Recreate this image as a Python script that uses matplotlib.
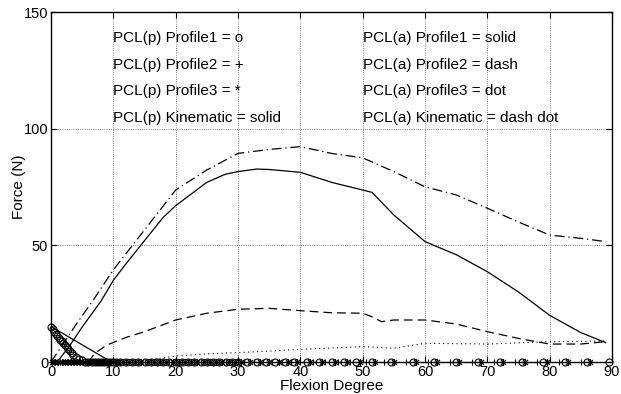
import matplotlib
matplotlib.use("Agg")
import matplotlib.pyplot as plt

plt.rcParams['font.family'] = ['Liberation Sans', 'DejaVu Sans']

# PCL(a) Profile1 (solid)
a1_x = [1, 3, 5, 8, 10, 12, 15, 18, 20, 22, 25, 28, 30, 33, 35, 40, 45, 50, 51.5, 55, 60, 65, 70, 75, 80, 85, 89]
a1_y = [0, 7, 15, 26, 35, 42, 52, 62, 67, 71, 77, 80.5, 81.6, 82.7, 82.5, 81.3, 77, 73.7, 72.7, 63, 51.6, 46, 38.7, 30, 20, 12.6, 8.3]

# PCL(a) Kinematic (dash dot)
ak_x = [0, 2, 4, 6.8, 10, 15, 20, 25, 30, 35, 40, 45, 50, 55, 60, 65, 70, 75, 80, 85, 89]
ak_y = [0, 8, 16, 26.6, 39.5, 56.6, 73.7, 82.3, 89.4, 91.1, 92.3, 89.4, 87.5, 81.6, 75.1, 71.6, 65.9, 60, 54.4, 53, 51.6]

# PCL(a) Profile2 (dash)
a2_x = [6, 7, 9, 12, 15, 20, 25, 30, 35, 40, 45, 50, 51.5, 53, 55, 60, 65, 70, 75, 80, 85, 89]
a2_y = [0, 3.7, 7.3, 10.5, 13, 18, 20.9, 22.6, 23, 22, 21.1, 20.9, 19.4, 17.3, 18, 18, 16.3, 13, 10.1, 7.7, 7.7, 8.7]

# PCL(a) Profile3 (dot)
a3_x = [16, 20, 25, 30, 40, 50, 55, 60, 70, 80, 89]
a3_y = [1, 2.5, 3.5, 4, 5.4, 6.6, 5.9, 8, 7.7, 8.7, 9]

# PCL(p) Kinematic (solid)
pk_x = [0, 9.7]
pk_y = [15.2, 0]

# PCL(p) Profile1 (o)
p1_x = [0, 0.25, 0.5, 0.75, 1.0, 1.25, 1.5, 1.75, 2.0, 2.25, 2.5, 2.75, 3.0, 3.3, 3.6, 4.0, 4.5, 5.0, 5.5,
        6, 6.5, 7, 7.5, 8, 8.5, 9, 9.5, 10, 10.5, 11, 12, 13, 14, 15, 16, 17, 18, 19, 20, 21, 22, 23, 24,
        25, 26, 27, 28, 29, 30, 31.5, 33, 34.5, 36, 37.5, 39, 41, 43, 45, 47, 49, 51.5, 54.5, 58, 61.5,
        65, 68.5, 72, 75.5, 79, 82.5, 86, 89.5]
p1_y = [15, 14, 13, 12.2, 11.3, 10.5, 9.6, 8.8, 8, 7.2, 6.4, 5.6, 4.8, 4, 3.2, 2.3, 1.4, 0.7, 0.2] + \
       [0.0] * 53

# PCL(p) Profile2 (+)
p2_x = [0, 0.5, 1, 1.5, 2, 2.5, 3, 3.5, 4, 4.5, 5, 5.5, 6, 6.5, 7, 7.5, 8, 8.5, 9, 9.5, 10, 10.5, 11,
        12, 13, 14, 15, 16, 17, 18, 19, 20, 21, 22, 23, 24, 25, 26, 27, 28, 29, 30, 31, 32.5, 34, 35.5,
        37, 38.5, 40, 42, 44, 46, 48, 50.5, 53.5, 57, 60.5, 64, 67.5, 71, 74.5, 78, 81.5, 85]
p2_y = [0.0] * len(p2_x)

# PCL(p) Profile3 (*)
p3_x = [0.2, 0.7, 1.2, 1.7, 2.2, 2.7, 3.2, 3.7, 4.2, 4.7, 5.2, 5.7, 6.2, 6.7, 7.2, 7.7, 8.2, 8.7, 9.2,
        9.7, 10.2, 10.7, 11.5, 12.5, 13.5, 14.5, 15.5, 16.5, 17.5, 18.5, 19.5, 20.5, 21.5, 22.5, 23.5,
        24.5, 25.5, 26.5, 27.5, 28.5, 29.5, 30.5, 32, 33.5, 35, 36.5, 38, 39.5, 41.5, 43.5, 45.5, 47.5,
        49.5, 52, 55, 58.5, 62, 65.5, 69, 72.5, 76, 79.5, 83, 86.5]
p3_y = [0.0] * len(p3_x)

x_ticks = [0, 10, 20, 30, 40, 50, 60, 70, 80, 90]
y_ticks = [0, 50, 100, 150]

left_labels = ["PCL(p) Profile1 = o", "PCL(p) Profile2 = +", "PCL(p) Profile3 = *", "PCL(p) Kinematic = solid"]
right_labels = ["PCL(a) Profile1 = solid", "PCL(a) Profile2 = dash", "PCL(a) Profile3 = dot", "PCL(a) Kinematic = dash dot"]
label_rows = [139, 127.5, 116, 104.5]

fig = plt.figure(figsize=(6.21, 3.94), dpi=100)
ax = fig.add_axes([51 / 621, 32 / 394, 561 / 621, 350 / 394])

ax.plot(a1_x, a1_y, color='black', lw=0.9, ls='-')
ax.plot(ak_x, ak_y, color='black', lw=0.9, ls=(0, (8, 3, 1, 3)))
ax.plot(a2_x, a2_y, color='black', lw=0.9, ls=(0, (7, 4)))
ax.plot(a3_x, a3_y, color='black', lw=0.8, ls=(0, (1, 3)))
ax.plot(pk_x, pk_y, color='black', lw=0.9, ls='-')
ax.plot(p1_x, p1_y, ls='none', marker='o', ms=5, mfc='none', mec='black', mew=0.8, clip_on=False)
ax.plot(p2_x, p2_y, ls='none', marker='+', ms=5, mec='black', mew=0.8, clip_on=False)
ax.plot(p3_x, p3_y, ls='none', marker=(8, 2, 0), ms=5, mec='black', mew=0.7, clip_on=False)

for lab, yy in zip(left_labels, label_rows):
    ax.text(10, yy, lab, fontsize=11, va='center', ha='left')
for lab, yy in zip(right_labels, label_rows):
    ax.text(50, yy, lab, fontsize=11, va='center', ha='left')

ax.set_xlim(0, 90)
ax.set_ylim(0, 150)
ax.set_xticks(x_ticks)
ax.set_yticks(y_ticks)
ax.tick_params(direction='in', top=True, right=True, length=4, width=0.8, labelsize=10.5, pad=2)
ax.grid(True, ls=':', color='#555555', lw=0.6)
for s in ax.spines.values():
    s.set_linewidth(1.0)
ax.set_xlabel("Flexion Degree", fontsize=11, labelpad=0)
ax.set_ylabel("Force (N)", fontsize=11, labelpad=-2)

fig.savefig("out.png", dpi=100)
